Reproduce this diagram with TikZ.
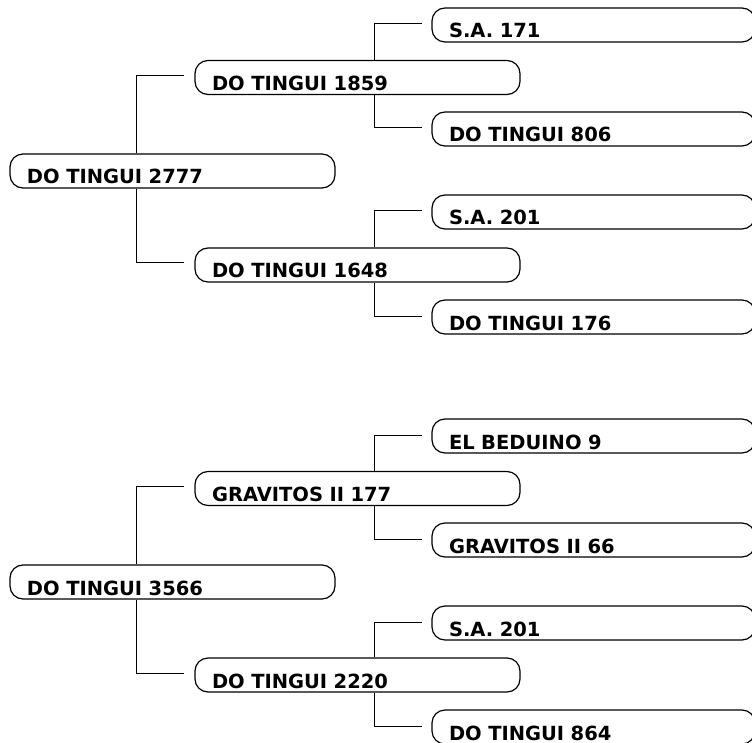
\documentclass[tikz,border=0pt]{standalone}
\usepackage{fontspec}
\setmainfont{DejaVu Sans}
\begin{document}
\begin{tikzpicture}[x=1pt,y=-1pt,
  tbox/.style={draw=black, line width=1.2pt, rounded corners=13pt, fill=white,
    minimum height=34pt, inner xsep=17pt, inner ysep=0pt, text width=291pt,
    align=left, text height=30pt, text depth=4pt,
    font=\fontsize{19.5}{22}\selectfont\bfseries},
  wbox/.style={tbox, text width=289pt},
  conn/.style={draw=black, line width=1pt}]
\useasboundingbox (0,0) rectangle (752,743);
% tree 1
\node[tbox] (r1) at (172.5,171) {DO TINGUI 2777};
\node[tbox] (a1) at (357.5,77.5) {DO TINGUI 1859};
\node[tbox] (b1) at (357.5,265) {DO TINGUI 1648};
\node[wbox] (a1a) at (593.5,25) {S.A. 171};
\node[wbox] (a1b) at (593.5,129) {DO TINGUI 806};
\node[wbox] (b1a) at (593.5,212) {S.A. 201};
\node[wbox] (b1b) at (593.5,317) {DO TINGUI 176};
% tree 2
\node[tbox] (r2) at (172.5,582) {DO TINGUI 3566};
\node[tbox] (a2) at (357.5,488.5) {GRAVITOS II 177};
\node[tbox] (b2) at (357.5,675) {DO TINGUI 2220};
\node[wbox] (a2a) at (593.5,436) {EL BEDUINO 9};
\node[wbox] (a2b) at (593.5,540) {GRAVITOS II 66};
\node[wbox] (b2a) at (593.5,623) {S.A. 201};
\node[wbox] (b2b) at (593.5,727) {DO TINGUI 864};
% connectors
\foreach \r/\a/\b in {r1/a1/b1, r2/a2/b2}{
  \draw[conn] ([xshift=-36.5pt]\r.north) |- ([xshift=-10pt,yshift=2pt]\a.west);
  \draw[conn] ([xshift=-36.5pt]\r.south) |- ([xshift=-10pt,yshift=2pt]\b.west);
}
\foreach \p/\a/\b in {a1/a1a/a1b, b1/b1a/b1b, a2/a2a/a2b, b2/b2a/b2b}{
  \draw[conn] ([xshift=16.5pt]\p.north) |- ([xshift=-9pt,yshift=1pt]\a.west);
  \draw[conn] ([xshift=16.5pt]\p.south) |- ([xshift=-9pt,yshift=1pt]\b.west);
}
\end{tikzpicture}
\end{document}
